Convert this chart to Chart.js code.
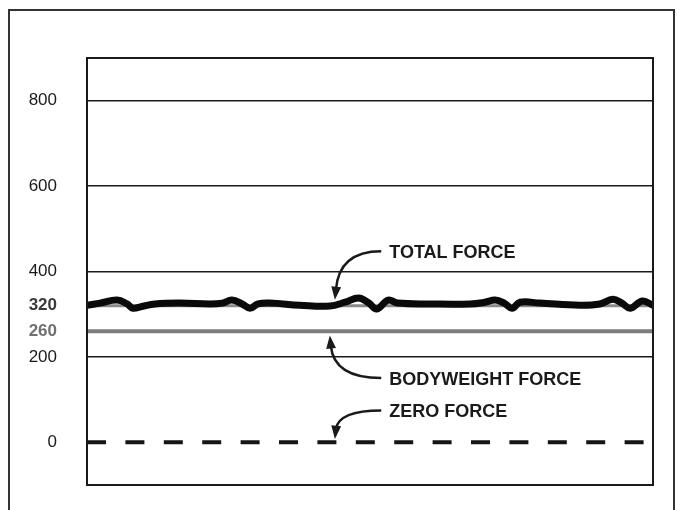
<!DOCTYPE html>
<html>
<head>
<meta charset="utf-8">
<script src="https://cdn.jsdelivr.net/npm/chart.js@4.4.1/dist/chart.umd.min.js"></script>
<style>
  html, body { margin: 0; padding: 0; background: #fff; }
  #wrap { position: relative; width: 677px; height: 510px; overflow: hidden; }
  #frame { position: absolute; left: 8px; top: 9px; width: 667px; height: 540px; border: 2px solid #333; box-sizing: border-box; }
  canvas { position: absolute; left: 0; top: 0; }
</style>
</head>
<body>
<div id="wrap">
  <div id="frame"></div>
  <canvas id="myChart" width="677" height="510"></canvas>
</div>
<script>
// position along the trace, 0..100
var totalX = [0, 2.3, 5.3, 7.1, 8.1, 9.7, 12, 16.4, 21.7, 23.9, 25.6, 27.4, 28.8, 30.2, 32.3, 37.6,
  42.9, 45.6, 48, 49.8, 51.2, 53.2, 54.9, 60.6, 67.7, 70.3, 72.1, 73.7, 75.1, 76.5, 80, 87.1,
  90.6, 92.9, 94.5, 96, 98.1, 100]
var totalForce = [321, 326, 333, 324, 314, 318, 324, 326, 324, 326, 333, 324, 314, 324, 326, 321,
  319, 328, 338, 326, 312, 333, 326, 324, 324, 328, 333, 326, 314, 328, 326, 321,
  324, 335, 326, 314, 331, 321]
var bodyweight = 260
var zeroForce = 0
var yTicks = [0, 200, 260, 320, 400, 600, 800]
var gridValues = [200, 400, 600, 800]

// labels with arrows: text anchor and arrow tip in data units
var callouts = [
  { text: "TOTAL FORCE", tx: 53.4, ty: 443, tipX: 43.8, tipY: 334 },
  { text: "BODYWEIGHT FORCE", tx: 53.4, ty: 146, tipX: 42.9, tipY: 250 },
  { text: "ZERO FORCE", tx: 53.4, ty: 70, tipX: 43.8, tipY: 8 },
]

function flat(v) {
  return [{ x: 0, y: v }, { x: 100, y: v }]
}

var frameAndCallouts = {
  id: "frameAndCallouts",
  afterDraw: function(chart) {
    var ctx = chart.ctx
    var a = chart.chartArea
    var xs = chart.scales.x, ys = chart.scales.y
    ctx.save()
    ctx.strokeStyle = "#1a1a1a"
    ctx.lineWidth = 2
    ctx.strokeRect(a.left, a.top, a.right - a.left, a.bottom - a.top)

    ctx.font = "bold 18px 'Liberation Sans', Arial, sans-serif"
    ctx.fillStyle = "#1a1a1a"
    ctx.textBaseline = "middle"
    ctx.textAlign = "left"
    for (var c of callouts) {
      var tx = xs.getPixelForValue(c.tx)
      var ty = ys.getPixelForValue(c.ty)
      ctx.fillText(c.text, tx, ty)
      var px = xs.getPixelForValue(c.tipX)
      var py = ys.getPixelForValue(c.tipY)
      var sx = tx - 8, sy = ty - 2
      var dir = py > sy ? 1 : -1
      var cx = px + 4, cy = sy
      var ex = px + 1, ey = py - dir * 10
      ctx.lineWidth = 2.5
      ctx.beginPath()
      ctx.moveTo(sx, sy)
      ctx.quadraticCurveTo(cx, cy, ex, ey)
      ctx.stroke()
      // arrow head
      var ang = Math.atan2(py - ey, px - ex)
      ctx.beginPath()
      ctx.moveTo(px, py)
      ctx.lineTo(px - 14 * Math.cos(ang - 0.36), py - 14 * Math.sin(ang - 0.36))
      ctx.lineTo(px - 14 * Math.cos(ang + 0.36), py - 14 * Math.sin(ang + 0.36))
      ctx.closePath()
      ctx.fill()
    }
    ctx.restore()
  }
}

var ctx = document.getElementById("myChart")
var myChart = new Chart(ctx, {
  type: "line",
  data: {
    datasets: [
      {
        label: "Total force",
        data: totalX.map((x, i) => ({ x: x, y: totalForce[i] })),
        borderColor: "#0a0a0a",
        borderWidth: 7,
        borderCapStyle: "round",
        borderJoinStyle: "round",
        tension: 0.4,
        pointRadius: 0,
        fill: false,
        order: 1,
      },
      {
        label: "Total force baseline",
        data: flat(320),
        borderColor: "#8a8a8a",
        borderWidth: 3,
        pointRadius: 0,
        order: 2,
      },
      {
        label: "Bodyweight force",
        data: flat(bodyweight),
        borderColor: "#7d7d7d",
        borderWidth: 4,
        pointRadius: 0,
        order: 3,
      },
      {
        label: "Zero force",
        data: flat(zeroForce),
        borderColor: "#151515",
        borderWidth: 4,
        borderDash: [19, 19.4],
        pointRadius: 0,
        order: 4,
      },
    ]
  },
  options: {
    responsive: false,
    animation: false,
    layout: { padding: { left: 0, top: 58, right: 24, bottom: 25 } },
    plugins: { legend: { display: false }, tooltip: { enabled: false } },
    scales: {
      x: { type: "linear", min: 0, max: 100, display: false },
      y: {
        min: -100,
        max: 900,
        afterFit: function(scale) {
          scale.width = 87
          scale.paddingTop = 0
          scale.paddingBottom = 0
        },
        afterBuildTicks: function(scale) {
          scale.ticks = yTicks.map(v => ({ value: v }))
        },
        border: { display: false },
        grid: {
          drawTicks: false,
          color: c => gridValues.includes(c.tick.value) ? "#1a1a1a" : "rgba(0,0,0,0)",
          lineWidth: 1.5,
        },
        ticks: {
          padding: 30,
          font: c => ({
            family: "'Liberation Sans', Arial, sans-serif",
            size: 17,
            weight: (c.tick && (c.tick.value == 260 || c.tick.value == 320)) ? "bold" : "normal",
          }),
          color: c => c.tick.value == 260 ? "#707070" : (c.tick.value == 320 ? "#3a3a3a" : "#1a1a1a"),
        }
      }
    }
  },
  plugins: [frameAndCallouts]
})
</script>
</body>
</html>
